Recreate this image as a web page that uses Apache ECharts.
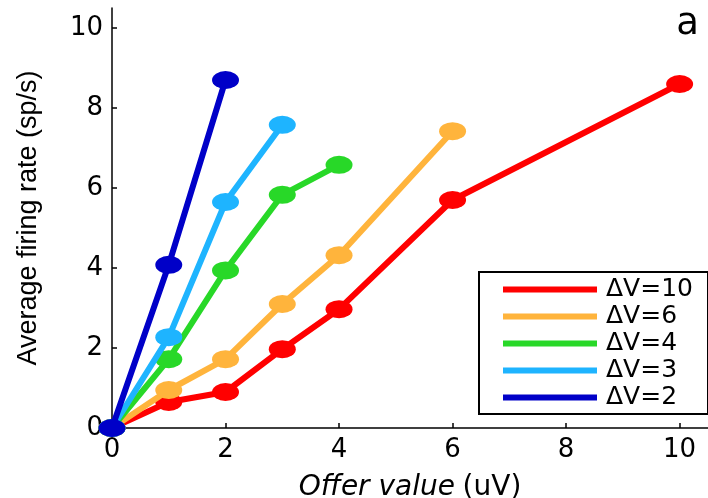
<!DOCTYPE html>
<html>
<head>
<meta charset="utf-8">
<script src="https://cdn.jsdelivr.net/npm/echarts@6/dist/echarts.min.js"></script>
<style>html,body{margin:0;padding:0;background:#fff;}#c{width:708px;height:498px;}</style>
</head>
<body>
<div id="c"></div>
<script>
const xTicks = [0, 2, 4, 6, 8, 10];
const yTicks = [0, 2, 4, 6, 8, 10];
const seriesNames = ['ΔV=10', 'ΔV=6', 'ΔV=4', 'ΔV=3', 'ΔV=2'];
const dv10X = [0, 1, 2, 3, 4, 6, 10];
const dv10Y = [0, 0.65, 0.9, 1.97, 2.97, 5.7, 8.6];
const dv6X = [0, 1, 2, 3, 4, 6];
const dv6Y = [0, 0.95, 1.72, 3.1, 4.32, 7.42];
const dv4X = [0, 1, 2, 3, 4];
const dv4Y = [0, 1.72, 3.94, 5.83, 6.58];
const dv3X = [0, 1, 2, 3];
const dv3Y = [0, 2.27, 5.65, 7.58];
const dv2X = [0, 1, 2];
const dv2Y = [0, 4.08, 8.7];
const colors = ['#ff0000', '#ffb43c', '#28d828', '#1eb4ff', '#0000c8'];

const xs = [dv10X, dv6X, dv4X, dv3X, dv2X];
const ys = [dv10Y, dv6Y, dv4Y, dv3Y, dv2Y];
const font = 'DejaVu Sans';
const ellipse = 'path://M0,50A50,50,0,1,1,100,50A50,50,0,1,1,0,50Z';

const chart = echarts.init(document.getElementById('c'), null, {renderer: 'canvas'});
chart.setOption({
  animation: false,
  backgroundColor: '#fff',
  textStyle: {fontFamily: font},
  title: {text: 'a', right: 4, top: 1, textStyle: {fontFamily: font, fontSize: 37, fontWeight: 'normal', color: '#000'}},
  grid: {left: 112, right: 0, top: 8, bottom: 70, containLabel: false, outerBoundsMode: 'none'},
  xAxis: {
    type: 'value', min: 0, max: 10.5, interval: 2,
    name: '{i|Offer value}  {n|(uV)}', nameLocation: 'middle', nameGap: 46,
    nameTextStyle: {rich: {i: {fontStyle: 'italic', fontSize: 28, fontFamily: font, color: '#000'}, n: {fontSize: 28, fontFamily: font, color: '#000'}}},
    axisLine: {onZero: false, lineStyle: {color: '#000', width: 1.5}},
    axisTick: {inside: true, length: 5, customValues: xTicks, lineStyle: {color: '#000', width: 1.5}},
    axisLabel: {customValues: xTicks, fontSize: 26, color: '#000', margin: 9, fontFamily: font},
    splitLine: {show: false}
  },
  yAxis: {
    type: 'value', min: 0, max: 10.5, interval: 2,
    name: 'Average firing rate (sp/s)', nameLocation: 'middle', nameGap: 70,
    nameTextStyle: {fontSize: 27, color: '#000', fontFamily: 'Liberation Sans'},
    axisLine: {show: true, onZero: false, lineStyle: {color: '#000', width: 1.5}},
    axisTick: {show: true, inside: true, length: 5, customValues: yTicks, lineStyle: {color: '#000', width: 1.5}},
    axisLabel: {customValues: yTicks, fontSize: 26, color: '#000', margin: 9, fontFamily: font},
    splitLine: {show: false}
  },
  legend: {
    orient: 'vertical', left: 498, top: 272, itemGap: 2, itemWidth: 94, itemHeight: 6,
    icon: 'rect', data: seriesNames,
    textStyle: {fontSize: 25, color: '#000', fontFamily: font, padding: [0, 0, 0, 4]},
    z: 10
  },
  graphic: [{
    type: 'rect', left: 478, top: 271, z: 5,
    shape: {width: 229, height: 142},
    style: {fill: '#fff', stroke: '#000', lineWidth: 2}
  }],
  series: seriesNames.map((n, i) => ({
    name: n, type: 'line', data: xs[i].map((x, j) => [x, ys[i][j]]),
    color: colors[i],
    lineStyle: {width: 6, color: colors[i]},
    symbol: ellipse, symbolSize: [27, 18],
    itemStyle: {color: colors[i]},
    z: 2 + i
  }))
});
</script>
</body>
</html>
